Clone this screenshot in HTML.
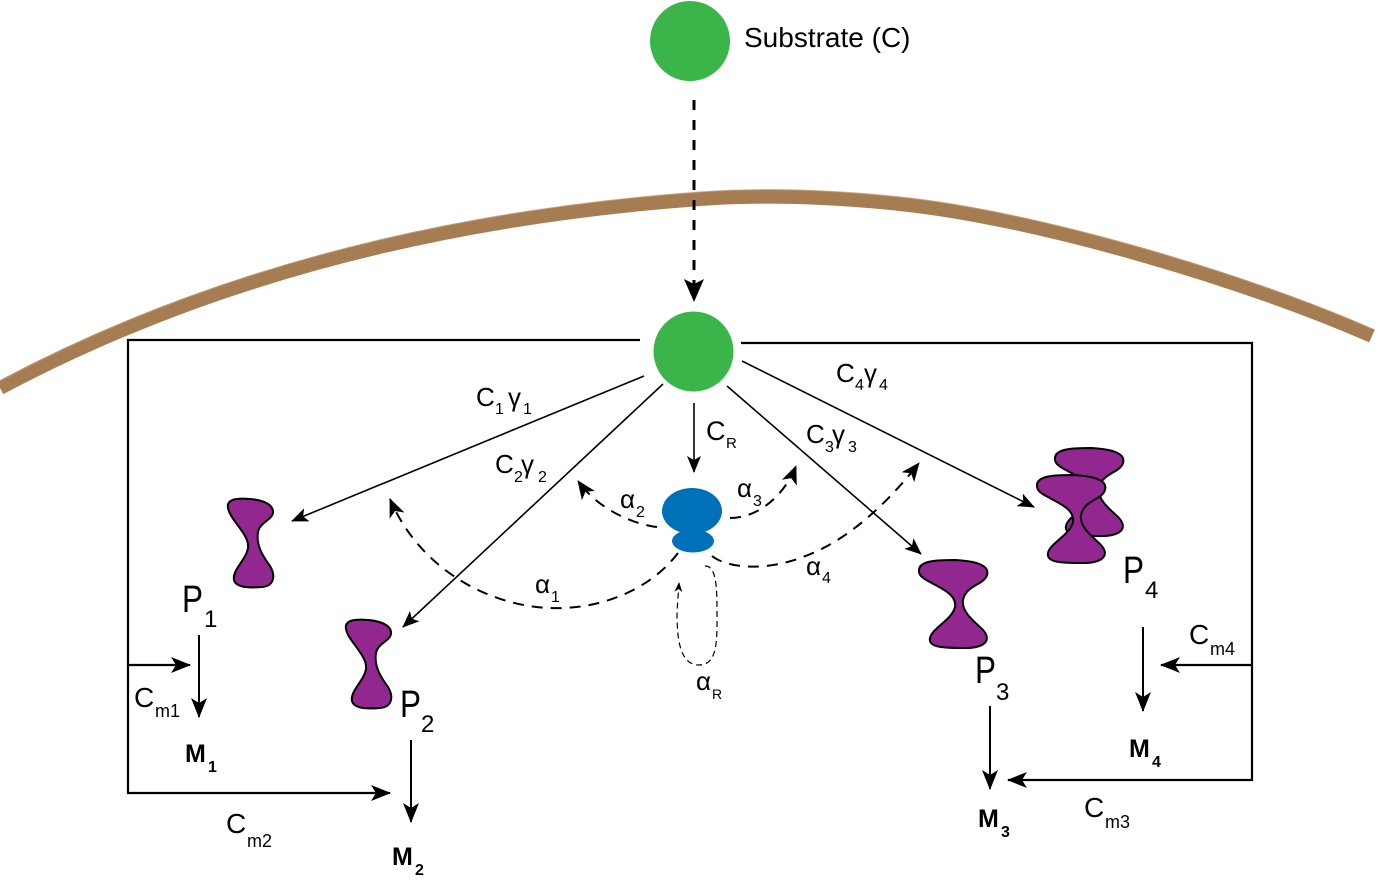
<!DOCTYPE html>
<html>
<head>
<meta charset="utf-8">
<style>
  html,body{margin:0;padding:0;background:#fff;}
  svg{display:block;}
  text{font-family:"Liberation Sans", sans-serif; fill:#000;}
</style>
</head>
<body>
<svg width="1379" height="882" viewBox="0 0 1379 882" xmlns="http://www.w3.org/2000/svg">
  <defs>
    <marker id="ah" markerUnits="userSpaceOnUse" viewBox="-22 -10 26 20" markerWidth="26" markerHeight="20" refX="0" refY="0" orient="auto">
      <path d="M1,0 L-19,-8 L-14,0 L-19,8 Z" fill="#000"/>
    </marker>
    <marker id="ahs" markerUnits="userSpaceOnUse" viewBox="-20 -9 24 18" markerWidth="24" markerHeight="18" refX="0" refY="0" orient="auto">
      <path d="M1,0 L-16,-7 L-12,0 L-16,7 Z" fill="#000"/>
    </marker>
    <marker id="ahd" markerUnits="userSpaceOnUse" viewBox="-22 -10 26 20" markerWidth="26" markerHeight="20" refX="0" refY="0" orient="auto">
      <path d="M1,0 L-18,-8 L-13,0 L-18,8 Z" fill="#000"/>
    </marker>
    <marker id="ahr" markerUnits="userSpaceOnUse" viewBox="-12 -6 14 12" markerWidth="14" markerHeight="12" refX="0" refY="0" orient="auto">
      <path d="M1,0 L-9,-4 L-6,0 L-9,4 Z" fill="#000"/>
    </marker>
  </defs>

  <!-- membrane -->
  <path d="M0,388 Q300,228 700,199 Q790,192.5 900,204 C1040,218.6 1250,282 1372,336" fill="none" stroke="#a67c52" stroke-width="14"/>
  <path d="M0,381 Q300,221 700,192 Q790,185.5 900,197 C1040,211.6 1250,275 1372,329" fill="none" stroke="#c49a6c" stroke-width="1.2" opacity="0.7"/>

  <!-- substrate -->
  <circle cx="690" cy="41" r="40" fill="#3bb54a"/>
  <text x="744" y="47" font-size="28">Substrate (C)</text>
  <line x1="694" y1="100" x2="694" y2="284" stroke="#000" stroke-width="3" stroke-dasharray="10,10"/>
  <path d="M694,302 L684,279 L694,284 L704,279 Z" fill="#000"/>

  <!-- inner green -->
  <circle cx="693.5" cy="351.5" r="40" fill="#3bb54a"/>

  <!-- box connectors -->
  <polyline points="640,340 128,340 128,793 390,793" fill="none" stroke="#000" stroke-width="2.2" marker-end="url(#ah)"/>
  <line x1="128" y1="665" x2="190" y2="665" stroke="#000" stroke-width="2.2" marker-end="url(#ah)"/>
  <polyline points="741,343 1252,343 1252,780 1008,780" fill="none" stroke="#000" stroke-width="2.2" marker-end="url(#ah)"/>
  <line x1="1252" y1="665" x2="1161" y2="665" stroke="#000" stroke-width="2.2" marker-end="url(#ah)"/>

  <!-- P -> M arrows -->
  <line x1="199" y1="635" x2="199" y2="717" stroke="#000" stroke-width="2" marker-end="url(#ah)"/>
  <line x1="411" y1="740" x2="411" y2="822" stroke="#000" stroke-width="2" marker-end="url(#ah)"/>
  <line x1="990" y1="706" x2="990" y2="789" stroke="#000" stroke-width="2" marker-end="url(#ah)"/>
  <line x1="1143" y1="627" x2="1143" y2="711" stroke="#000" stroke-width="2" marker-end="url(#ah)"/>

  <!-- radial arrows -->
  <line x1="644" y1="376" x2="292" y2="521" stroke="#000" stroke-width="1.6" marker-end="url(#ahs)"/>
  <line x1="663" y1="384" x2="403" y2="627" stroke="#000" stroke-width="1.6" marker-end="url(#ahs)"/>
  <line x1="694" y1="403" x2="694" y2="472" stroke="#000" stroke-width="1.6" marker-end="url(#ahs)"/>
  <line x1="727" y1="386" x2="921" y2="554" stroke="#000" stroke-width="1.6" marker-end="url(#ahs)"/>
  <line x1="742" y1="361" x2="1034" y2="507" stroke="#000" stroke-width="1.6" marker-end="url(#ahs)"/>

  <!-- dashed feedback arcs -->
  <g fill="none" stroke="#000" stroke-width="2" stroke-dasharray="11,8">
    <path d="M657,527 C638,525 600,512 578,481" marker-end="url(#ahd)"/>
    <path d="M730,518 C758,518 784,496 796,466" marker-end="url(#ahd)"/>
    <path d="M678,553 C650,590 600,610 550,608 C490,606 420,570 390,499" marker-end="url(#ahd)"/>
    <path d="M712,556 C730,570 770,570 803,557 C850,540 890,500 919,463" marker-end="url(#ahd)"/>
  </g>
  <path d="M705,566 C716,566 717,585 717,612 C717,640 718,665 699,665 C680,665 677,640 677,612 L679,583" fill="none" stroke="#000" stroke-width="1.2" stroke-dasharray="6,4" marker-end="url(#ahr)"/>

  <!-- blue regulator -->
  <ellipse cx="693" cy="541" rx="21" ry="11.5" fill="#0070b9"/>
  <ellipse cx="692" cy="511" rx="30" ry="23" fill="#0070b9"/>

  <!-- proteins -->
  <g fill="#92278f" stroke="#000" stroke-width="2" stroke-linejoin="round">
    <path d="M228,508 C226,498 240,498 250,499 C262,500 274,504 273,513 C272,520 260,522 258,532 C256,545 262,555 270,566 C276,576 274,586 262,587 C250,588 236,588 234,580 C232,570 246,560 248,548 C250,535 230,520 228,508 Z"/>
    <path transform="translate(118,121)" d="M228,508 C226,498 240,498 250,499 C262,500 274,504 273,513 C272,520 260,522 258,532 C256,545 262,555 270,566 C276,576 274,586 262,587 C250,588 236,588 234,580 C232,570 246,560 248,548 C250,535 230,520 228,508 Z"/>
    <path d="M919,571 C918,560 940,560 955,560 C975,561 990,565 987,575 C984,585 966,585 963,600 C961,612 975,622 983,630 C992,640 985,648 965,648 C945,648 928,648 930,638 C932,628 952,620 955,607 C957,594 940,588 930,582 C922,578 919,575 919,571 Z"/>
    <path transform="translate(136,-112)" d="M919,571 C918,560 940,560 955,560 C975,561 990,565 987,575 C984,585 966,585 963,600 C961,612 975,622 983,630 C992,640 985,648 965,648 C945,648 928,648 930,638 C932,628 952,620 955,607 C957,594 940,588 930,582 C922,578 919,575 919,571 Z"/>
    <path transform="translate(118,-85)" d="M919,571 C918,560 940,560 955,560 C975,561 990,565 987,575 C984,585 966,585 963,600 C961,612 975,622 983,630 C992,640 985,648 965,648 C945,648 928,648 930,638 C932,628 952,620 955,607 C957,594 940,588 930,582 C922,578 919,575 919,571 Z"/>
  </g>

  <!-- labels: C gamma -->
  <text x="476" y="406" font-size="26">C</text><text x="495" y="414" font-size="16">1</text>
  <text x="508" y="406" font-size="26">γ</text><text x="523" y="414" font-size="16">1</text>

  <text x="495" y="473" font-size="26">C</text><text x="514" y="482" font-size="16">2</text>
  <text x="521" y="473" font-size="26">γ</text><text x="538" y="482" font-size="16">2</text>

  <text x="706" y="440" font-size="27">C</text><text x="726" y="448" font-size="15">R</text>

  <text x="806" y="443" font-size="26">C</text><text x="825" y="452" font-size="16">3</text>
  <text x="832" y="443" font-size="26">γ</text><text x="848" y="452" font-size="16">3</text>

  <text x="836" y="382" font-size="26">C</text><text x="855" y="390" font-size="16">4</text>
  <text x="864" y="382" font-size="26">γ</text><text x="879" y="390" font-size="16">4</text>

  <!-- alpha labels -->
  <text x="620" y="508" font-size="26">α</text><text x="636" y="517" font-size="16">2</text>
  <text x="737" y="497" font-size="26">α</text><text x="753" y="506" font-size="16">3</text>
  <text x="806" y="575" font-size="26">α</text><text x="822" y="583" font-size="16">4</text>
  <text x="696" y="690" font-size="26">α</text><text x="712" y="699" font-size="14">R</text>
  <text x="535" y="593" font-size="26">α</text><text x="551" y="602" font-size="16">1</text>

  <!-- P labels -->
  <text x="182" y="612" font-size="38" textLength="21" lengthAdjust="spacingAndGlyphs">P</text><text x="204" y="627" font-size="24">1</text>
  <text x="400" y="717" font-size="38" textLength="21" lengthAdjust="spacingAndGlyphs">P</text><text x="421" y="732" font-size="24">2</text>
  <text x="975" y="683" font-size="38" textLength="21" lengthAdjust="spacingAndGlyphs">P</text><text x="996" y="700" font-size="24">3</text>
  <text x="1123" y="583" font-size="38" textLength="21" lengthAdjust="spacingAndGlyphs">P</text><text x="1145" y="598" font-size="24">4</text>

  <!-- Cm labels -->
  <text x="134" y="707" font-size="28">C</text><text x="155" y="717" font-size="18">m1</text>
  <text x="226" y="833" font-size="28">C</text><text x="247" y="847" font-size="18">m2</text>
  <text x="1084" y="817" font-size="28">C</text><text x="1105" y="828" font-size="18">m3</text>
  <text x="1189" y="644" font-size="28">C</text><text x="1210" y="655" font-size="18">m4</text>

  <!-- M labels -->
  <text x="185" y="762" font-size="25" font-weight="bold">M</text><text x="208" y="772" font-size="16" font-weight="bold">1</text>
  <text x="392" y="865" font-size="25" font-weight="bold">M</text><text x="415" y="875" font-size="16" font-weight="bold">2</text>
  <text x="978" y="827" font-size="25" font-weight="bold">M</text><text x="1001" y="837" font-size="16" font-weight="bold">3</text>
  <text x="1129" y="757" font-size="25" font-weight="bold">M</text><text x="1152" y="767" font-size="16" font-weight="bold">4</text>
</svg>
</body>
</html>
